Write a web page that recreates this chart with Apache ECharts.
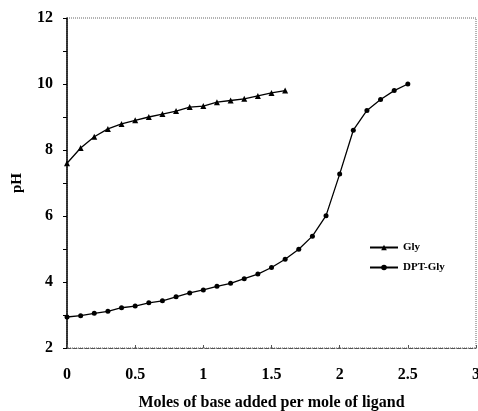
<!DOCTYPE html>
<html>
<head>
<meta charset="utf-8">
<script src="https://cdn.jsdelivr.net/npm/echarts@6/dist/echarts.min.js"></script>
<style>
  html, body { margin: 0; padding: 0; background: #fff; }
  #chart { width: 478px; height: 411px; }
</style>
</head>
<body>
<div id="chart"></div>
<script>
// moles of base per mole of ligand, step 0.1
const glyX = [0, 0.1, 0.2, 0.3, 0.4, 0.5, 0.6, 0.7, 0.8, 0.9, 1.0, 1.1, 1.2, 1.3, 1.4, 1.5, 1.6];
const glyPH = [7.6, 8.06, 8.4, 8.64, 8.79, 8.9, 9.0, 9.09, 9.18, 9.3, 9.33, 9.45, 9.5, 9.55, 9.64, 9.73, 9.8];

const dptX = [0, 0.1, 0.2, 0.3, 0.4, 0.5, 0.6, 0.7, 0.8, 0.9, 1.0, 1.1, 1.2, 1.3, 1.4, 1.5, 1.6, 1.7, 1.8, 1.9, 2.0, 2.1, 2.2, 2.3, 2.4, 2.5];
const dptPH = [2.94, 2.98, 3.05, 3.11, 3.22, 3.27, 3.37, 3.43, 3.55, 3.67, 3.76, 3.87, 3.96, 4.1, 4.24, 4.44, 4.69, 4.99, 5.39, 6.01, 7.27, 8.6, 9.2, 9.53, 9.8, 10.0];

const seriesNames = ["Gly", "DPT-Gly"];

const pairs = (xs, ys) => xs.map((x, i) => [x, ys[i]]);

const font = "Liberation Serif";
const chart = echarts.init(document.getElementById("chart"));

chart.setOption({
  animation: false,
  grid: {
    left: 67, right: 2, top: 18, bottom: 63,
    outerBoundsMode: "none",
    containLabel: false,
    show: true,
    borderColor: "#666",
    borderWidth: 1,
    borderType: "dotted"
  },
  legend: {
    left: 364, top: 237,
    orient: "vertical",
    itemGap: 9,
    itemWidth: 28,
    itemHeight: 7,
    textStyle: { fontFamily: font, fontWeight: "bold", fontSize: 11, color: "#000" },
    data: seriesNames
  },
  xAxis: {
    type: "value",
    min: 0, max: 3, interval: 0.5,
    name: "Moles of base added per mole of ligand",
    nameLocation: "middle",
    nameGap: 47,
    nameTextStyle: { fontFamily: font, fontWeight: "bold", fontSize: 16, color: "#000" },
    axisLine: { lineStyle: { color: "#555", type: "dashed", width: 1 } },
    axisTick: { show: true, inside: true, length: 3, lineStyle: { color: "#555" } },
    axisLabel: { margin: 19, fontFamily: font, fontWeight: "bold", fontSize: 16, color: "#000" },
    splitLine: { show: false }
  },
  yAxis: {
    type: "value",
    min: 2, max: 12, interval: 2,
    name: "pH",
    nameLocation: "middle",
    nameGap: 42,
    nameTextStyle: { fontFamily: font, fontWeight: "bold", fontSize: 15, color: "#000" },
    axisLine: { show: true, lineStyle: { color: "#000", width: 1.5 } },
    axisTick: { show: true, length: 4, lineStyle: { color: "#000" } },
    minorTick: { show: true, splitNumber: 2, length: 4, lineStyle: { color: "#000" } },
    axisLabel: { margin: 14, fontFamily: font, fontWeight: "bold", fontSize: 16, color: "#000" },
    splitLine: { show: false }
  },
  series: [
    {
      name: seriesNames[0],
      type: "line",
      data: pairs(glyX, glyPH),
      symbol: "triangle",
      symbolSize: 6,
      itemStyle: { color: "#000" },
      lineStyle: { color: "#000", width: 1.3 }
    },
    {
      name: seriesNames[1],
      type: "line",
      data: pairs(dptX, dptPH),
      symbol: "circle",
      symbolSize: 5,
      itemStyle: { color: "#000" },
      lineStyle: { color: "#000", width: 1.3 }
    }
  ]
});
</script>
</body>
</html>
